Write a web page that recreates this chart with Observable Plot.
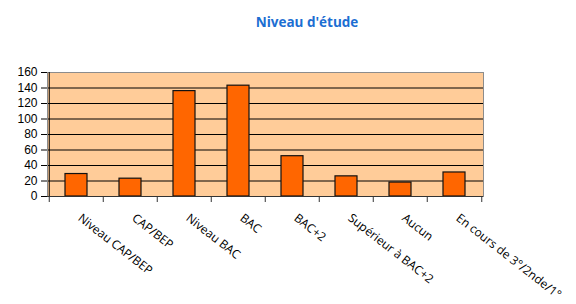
<!DOCTYPE html>
<html><head><meta charset="utf-8">
<script src="https://cdn.jsdelivr.net/npm/d3@7"></script>
<script src="https://cdn.jsdelivr.net/npm/@observablehq/plot@0.6"></script>
<style>
body{margin:0;background:#fff;}
#title{box-sizing:border-box;width:576px;height:44px;padding-left:38px;padding-top:14px;text-align:center;font:bold 13.5px "Open Sans",sans-serif;color:#1C6ED2;line-height:16px;}
</style></head><body>
<div id="title">Niveau d'étude</div>
<div id="chart"></div>
<script>
const categories = ["Niveau CAP/BEP","CAP/BEP","Niveau BAC","BAC","BAC+2","Supérieur à BAC+2","Aucun","En cours de 3°/2nde/1°"];
const counts = [29, 23, 136, 143, 52, 26, 18, 31];
const yTicks = [0, 20, 40, 60, 80, 100, 120, 140, 160];

const data = categories.map((c, i) => ({cat: c, n: counts[i]}));
const W = 576, H = 260, mL = 47, mR = 93, mT = 28, mB = 108;
const step = (W - mL - mR) / categories.length;

const chart = Plot.plot({
  width: W, height: H,
  marginLeft: mL, marginRight: mR, marginTop: mT, marginBottom: mB,
  style: {background: "transparent", overflow: "visible"},
  x: {domain: categories, paddingInner: 0.6, paddingOuter: 0.3, axis: null},
  y: {domain: [0, 160], axis: null},
  marks: [
    Plot.frame({fill: "#FFCC99", stroke: null}),
    Plot.ruleY(yTicks.slice(1, -1), {stroke: "#000", strokeWidth: 1}),
    Plot.frame({stroke: "#8c8c8c", strokeWidth: 1}),
    Plot.barY(data, {x: "cat", y: "n", fill: "#FF6600", stroke: "#111", strokeWidth: 1.2}),
    Plot.ruleX([categories[0]], {dx: -step / 2, stroke: "#000", strokeWidth: 1}),
    Plot.ruleY([0], {stroke: "#333", strokeWidth: 1}),
    Plot.axisY({ticks: yTicks, tickSize: 6, tickPadding: 4, fontSize: 12, fontFamily: "Liberation Sans", stroke: "#000", color: "#000", label: null}),
    Plot.axisX({tickSize: 6, tickFormat: () => "", dx: -step / 2, stroke: "#333", label: null}),
    Plot.axisX({ticks: [categories[categories.length - 1]], tickSize: 6, tickFormat: () => "", dx: step / 2, stroke: "#333", label: null}),
    Plot.axisX({tickSize: 0, tickPadding: 20, tickRotate: 38, dx: 3, fontSize: 12, fontFamily: "Open Sans", color: "#000", label: null})
  ]
});
document.getElementById("chart").appendChild(chart);
</script>
</body></html>
